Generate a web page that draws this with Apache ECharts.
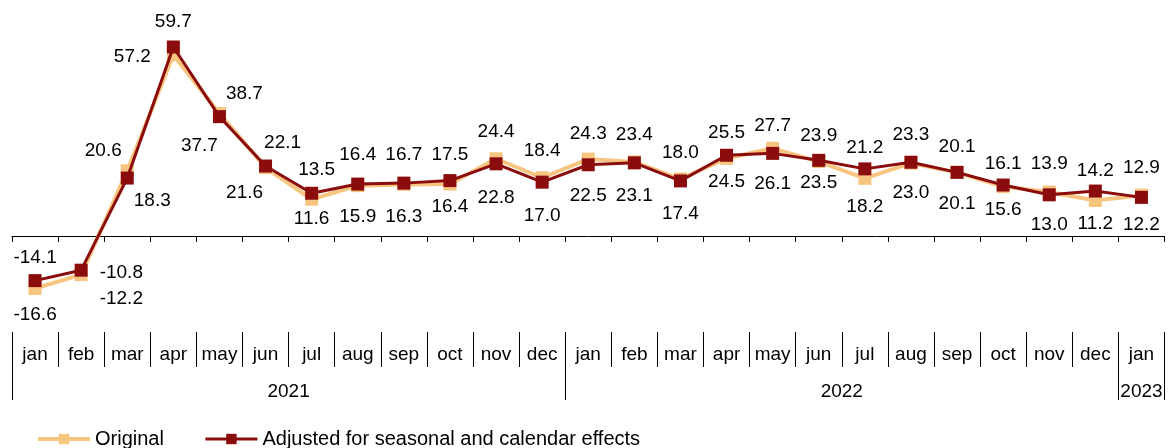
<!DOCTYPE html>
<html>
<head>
<meta charset="utf-8">
<script src="https://cdn.jsdelivr.net/npm/echarts@6/dist/echarts.min.js"></script>
<style>
html,body{margin:0;padding:0;background:#fff;}
#chart{width:1169px;height:448px;}
</style>
</head>
<body>
<div id="chart"></div>
<script>
// ---- data ----
const months = ['jan','feb','mar','apr','may','jun','jul','aug','sep','oct','nov','dec',
                'jan','feb','mar','apr','may','jun','jul','aug','sep','oct','nov','dec','jan'];
const years = ['2021','2022','2023'];
const monthsPerYear = [12, 12, 1];
const original = [-16.6,-12.2,20.6,57.2,38.7,21.6,11.6,15.9,16.3,16.4,24.4,18.4,
                  24.3,23.4,18.0,24.5,27.7,23.5,18.2,23.0,20.1,15.6,13.9,11.2,12.9];
const adjusted = [-14.1,-10.8,18.3,59.7,37.7,22.1,13.5,16.4,16.7,17.5,22.8,17.0,
                  22.5,23.1,17.4,25.5,26.1,23.9,21.2,23.3,20.1,16.1,13.0,14.2,12.2];
const seriesNames = ['Original','Adjusted for seasonal and calendar effects'];

// ---- label layout (style only) ----
const origOverride = {1:['right',5,24],2:['top',-24,3],3:['left',-9,2],4:['top',25,3],5:['bottom',-21,2]};
const adjOverride  = {1:['right',5,3],2:['bottom',25,0],3:['top',0,-2],4:['bottom',-20,6],5:['top',17,0],6:['top',5,0]};
// small vertical nudges of label text (pixels)
const origNudge = [3,0,0,0,0,0,-4,8,9,0,-4,-4,-2,-4,-3,0,0,-2,5,7,8,0,-5,0,-4];
const adjNudge  = [0,0,0,0,0,0,0,-6,-5,-3,11,11,8,10,10,0,7,-2,2,-4,-3,2,7,3,4];

function buildData(vals, other, overrides, nudge, isAdj){
  return vals.map((v,i)=>{
    let pos, dx=0, dy=0;
    if (overrides[i]) { [pos,dx,dy] = overrides[i]; }
    else {
      if (v > other[i]) pos='top';
      else if (v < other[i]) pos='bottom';
      else pos = isAdj ? 'top' : 'bottom';
      dy = nudge[i];
    }
    return {value:v, label:{position:pos, offset:[dx,dy]}};
  });
}

// year positions derived from month counts
const yearCenters = [], yearBounds = [];
let s = 0;
monthsPerYear.forEach(n=>{ yearBounds.push(s-0.5); yearCenters.push(s+(n-1)/2); s+=n; });
yearBounds.push(s-0.5);

const FONT = "'Liberation Sans', Arial, sans-serif";
const RED = '#8B0C0C', LIGHT = '#F8C581';

const chart = echarts.init(document.getElementById('chart'));
chart.setOption({
  animation:false,
  backgroundColor:'#fff',
  textStyle:{fontFamily:FONT},
  grid:{left:12, right:4.5, top:14.4, bottom:148.7, containLabel:false},
  legend:{
    left:31, top:424, itemWidth:52, itemHeight:13, itemGap:40, padding:5,
    lineStyle:{width:'inherit'},
    textStyle:{fontSize:20, color:'#000', fontFamily:FONT},
    data:seriesNames
  },
  xAxis:[
    {type:'category', data:months, position:'bottom', gridIndex:0,
     axisLine:{onZero:true, lineStyle:{color:'#000', width:1}},
     axisTick:{show:true, length:6, lineStyle:{color:'#000'}},
     axisLabel:{show:false}, splitLine:{show:false}},
    {type:'category', data:months, position:'bottom', gridIndex:0, offset:32.7,
     axisLine:{show:false, onZero:false},
     axisTick:{show:true, length:35, interval:0, lineStyle:{color:'#000'}},
     axisLabel:{show:true, interval:0, margin:13, fontSize:19, color:'#000', fontFamily:FONT},
     splitLine:{show:false}},
    {type:'value', min:-0.5, max:24.5, position:'bottom', gridIndex:0, offset:32.7,
     axisLine:{show:false, onZero:false},
     axisTick:{show:true, length:68, customValues:yearBounds, lineStyle:{color:'#000'}},
     axisLabel:{show:true, customValues:yearCenters, margin:50, fontSize:19, color:'#000', fontFamily:FONT,
       formatter:(v)=>{ const k = yearCenters.findIndex(c=>Math.abs(c-v)<1e-6); return k>=0?years[k]:''; }},
     splitLine:{show:false}}
  ],
  yAxis:{type:'value', min:-20, max:70, show:false, splitLine:{show:false}},
  series:[
    {name:seriesNames[0], type:'line', xAxisIndex:0, data:buildData(original, adjusted, origOverride, origNudge, false),
     symbol:'rect', symbolSize:13, color:LIGHT,
     lineStyle:{color:LIGHT, width:4}, itemStyle:{color:LIGHT},
     label:{show:true, distance:7, fontSize:19, color:'#000', fontFamily:FONT, formatter:(p)=>p.value.toFixed(1)},
     z:2},
    {name:seriesNames[1], type:'line', xAxisIndex:0, data:buildData(adjusted, original, adjOverride, adjNudge, true),
     symbol:'rect', symbolSize:13, color:RED,
     lineStyle:{color:RED, width:3}, itemStyle:{color:RED},
     label:{show:true, distance:7, fontSize:19, color:'#000', fontFamily:FONT, formatter:(p)=>p.value.toFixed(1)},
     z:3}
  ]
});
</script>
</body>
</html>
